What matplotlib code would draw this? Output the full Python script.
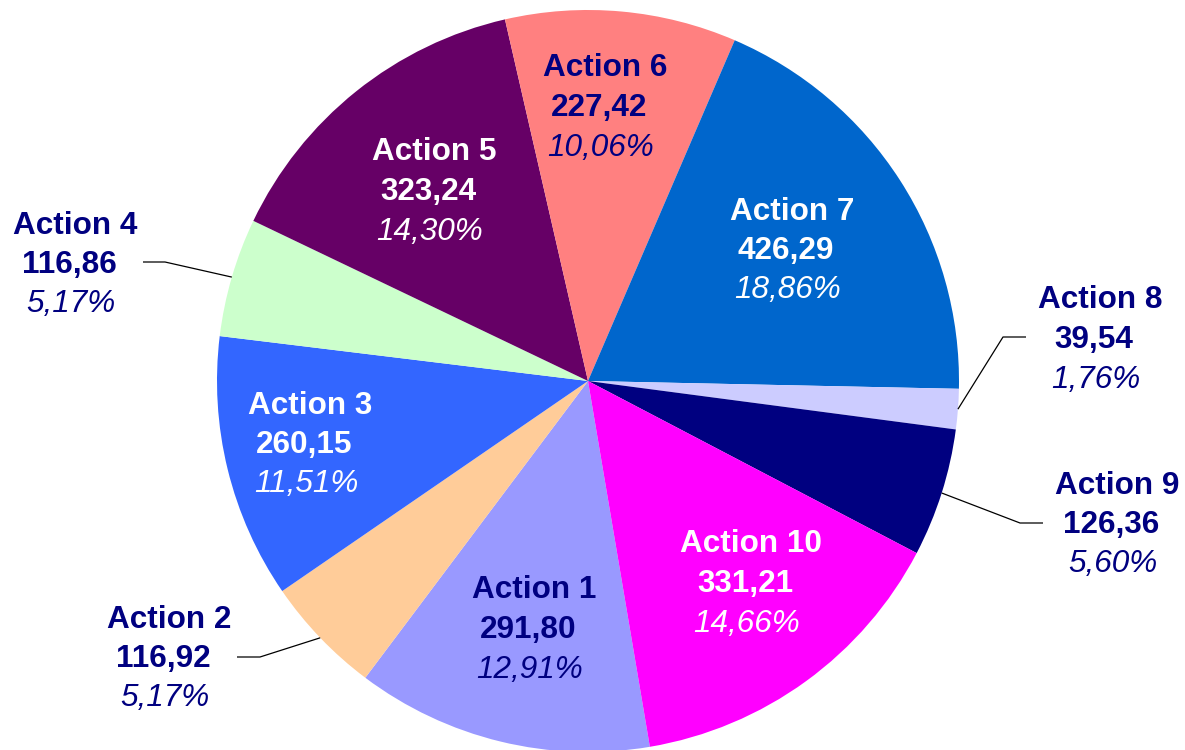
import matplotlib
matplotlib.use('Agg')
import numpy as np
import matplotlib.pyplot as plt

# dados do gráfico
acoes = ['Action 1', 'Action 2', 'Action 3', 'Action 4', 'Action 5',
         'Action 6', 'Action 7', 'Action 8', 'Action 9', 'Action 10']
valores = [291.80, 116.92, 260.15, 116.86, 323.24, 227.42, 426.29, 39.54, 126.36, 331.21]
percentuais = ['12,91%', '5,17%', '11,51%', '5,17%', '14,30%',
               '10,06%', '18,86%', '1,76%', '5,60%', '14,66%']
cores = ['#9999FF', '#FFCC99', '#3366FF', '#CCFFCC', '#660066',
         '#FF8080', '#0066CC', '#CCCCFF', '#000080', '#FF00FF']

W, H = 1185, 750
navy = '#000080'
plt.rcParams['font.family'] = ['Liberation Sans', 'DejaVu Sans']

fig = plt.figure(figsize=(W / 100, H / 100), dpi=100)
ax = fig.add_axes([0, 0, 1, 1])

cx, cy, r = 588, H - 381, 371
wedges, _ = ax.pie(valores, colors=cores, startangle=-80.4, counterclock=False,
                   center=(cx, cy), radius=r, wedgeprops=dict(linewidth=0))
ax.set_xlim(0, W)
ax.set_ylim(0, H)
ax.set_aspect('equal')
ax.axis('off')

# posição dos rótulos (centro x da linha do valor, linha de base do valor), em pixels
pos_rotulos = [(528, 638), (163, 667), (304, 453), (69, 273), (428, 200),
               (599, 116), (786, 259), (1094, 348), (1111, 533), (745, 592)]
cor_texto = [navy, navy, 'white', navy, 'white', navy, 'white', navy, navy, 'white']

fs = 22.7
for i, (x, y) in enumerate(pos_rotulos):
    yb = H - y
    c = cor_texto[i]
    ax.text(x + 6, yb + 39.5, acoes[i], ha='center', va='baseline', fontsize=fs,
            fontweight='bold', color=c)
    ax.text(x, yb, f'{valores[i]:.2f}'.replace('.', ','), ha='center', va='baseline',
            fontsize=fs, fontweight='bold', color=c)
    ax.text(x + 2, yb - 39.5, percentuais[i], ha='center', va='baseline', fontsize=fs,
            fontstyle='italic', color=c)

# linhas de chamada para os rótulos externos: (índice, cotovelo, ponta) em pixels
chamadas = [(3, (165, 262), (143, 262)), (1, (260, 657), (237, 657)),
            (7, (1003, 337), (1026, 337)), (8, (1020, 523), (1043, 523))]
for i, cot, ponta in chamadas:
    w = wedges[i]
    meio = np.deg2rad((w.theta1 + w.theta2) / 2)
    px, py = cx + r * np.cos(meio), cy + r * np.sin(meio)
    ax.plot([px, cot[0], ponta[0]], [py, H - cot[1], H - ponta[1]],
            color='black', linewidth=0.9, solid_capstyle='butt')

fig.savefig('out.png', dpi=100)
plt.close(fig)
